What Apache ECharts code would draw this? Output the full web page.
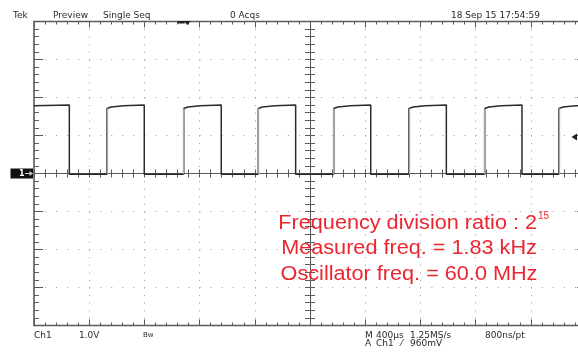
<!DOCTYPE html>
<html>
<head>
<meta charset="utf-8">
<script src="https://cdn.jsdelivr.net/npm/echarts@6.0.0/dist/echarts.min.js"></script>
<style>
  html, body { margin: 0; padding: 0; background: #fff; }
  #scope { width: 578px; height: 353px; }
</style>
</head>
<body>
<div id="scope"></div>
<script>
// ---- Acquisition: Ch1 square wave, 400 µs/div, 1.0 V/div ----
// Edge instants in µs relative to the screen centre; the first edge is a falling one.
const edgeTimesUs = [-1744, -1471, -1201, -915, -643, -375, -104, 172, 440, 717, 988, 1266, 1536, 1804];
const sweepUs = [-2000, 2000];
const firstLevelHigh = true;
// High plateau: slight rounding after each rising edge, then flat
const plateauOffsetsUs = [0, 30, 120];
const plateauVolts = [1.71, 1.75, 1.78];
const plateauEndV = 1.80;
const lowV = -0.02;
// Vertical range and trigger level (V)
const voltRange = [-4, 4];
const triggerLevelV = 0.96;
const acquiredTriggerUs = -915;

// Screen annotations
const headerItems = ['Tek', 'Preview', 'Single Seq', '0 Acqs', '18 Sep 15 17:54:59'];
const footerRow1 = ['Ch1', '1.0V', 'Bw', 'M', '400µs', '1.25MS/s', '800ns/pt'];
const footerRow2 = ['A', 'Ch1', '⁄', '960mV'];
const noteLines = ['Frequency division ratio : 2', 'Measured freq. = 1.83 kHz', 'Oscillator freq. = 60.0 MHz'];
const noteExponent = '15';

// Build the trace polyline from the edge list
function buildTrace() {
  const pts = [];
  const bounds = [sweepUs[0], ...edgeTimesUs, sweepUs[1]];
  let high = firstLevelHigh;
  for (let i = 0; i < bounds.length - 1; i++) {
    const a = bounds[i], b = bounds[i + 1];
    if (high) {
      if (i === 0) {
        pts.push([a, plateauVolts[plateauVolts.length - 1]]);
      } else {
        plateauOffsetsUs.forEach((o, k) => { if (a + o < b) pts.push([a + o, plateauVolts[k]]); });
      }
      pts.push([b, plateauEndV]);
    } else {
      pts.push([a, lowV]);
      pts.push([b, lowV]);
    }
    high = !high;
  }
  return pts;
}

// Rising edges are drawn fainter (fast transitions on the scope display)
function risingEdges() {
  const segs = [];
  let high = firstLevelHigh;
  edgeTimesUs.forEach(t => {
    high = !high;
    if (high) segs.push({ coords: [[t, lowV], [t, plateauVolts[0]]] });
  });
  return segs;
}

const frameColor = '#5a5a5a';
const dotColor = '#9a9a9a';

function xAxisDef(position, onZero, inside, majorLen, minorLen, withGrid) {
  return {
    type: 'value', min: sweepUs[0], max: sweepUs[1], interval: 400, position: position,
    axisLine: { show: true, onZero: onZero, onZeroAxisIndex: 0, lineStyle: { color: frameColor, width: onZero ? 1 : 1.4 } },
    axisTick: { show: true, inside: inside, length: majorLen, lineStyle: { color: frameColor, width: 1 } },
    minorTick: { show: true, splitNumber: 5, length: minorLen, lineStyle: { color: frameColor, width: 1 } },
    axisLabel: { show: false },
    splitLine: { show: withGrid, lineStyle: { color: dotColor, width: 1, type: [1, 6.6] } },
    minorSplitLine: { show: false }
  };
}

function yAxisDef(position, onZero, inside, majorLen, minorLen, withGrid) {
  return {
    type: 'value', min: voltRange[0], max: voltRange[1], interval: 1, position: position,
    axisLine: { show: true, onZero: onZero, onZeroAxisIndex: 0, lineStyle: { color: frameColor, width: onZero ? 1 : 1.6 } },
    axisTick: { show: true, inside: inside, length: majorLen, lineStyle: { color: frameColor, width: 1 } },
    minorTick: { show: true, splitNumber: 5, length: minorLen, lineStyle: { color: frameColor, width: 1 } },
    axisLabel: { show: false },
    splitLine: { show: withGrid, lineStyle: { color: dotColor, width: 1, type: [1, 10.04] } },
    minorSplitLine: { show: false }
  };
}

const chart = echarts.init(document.getElementById('scope'), null, { renderer: 'canvas' });

const option = {
  animation: false,
  backgroundColor: '#ffffff',
  grid: { left: 34, top: 21.5, width: 552, height: 304, outerBoundsMode: 'none' },
  xAxis: [
    xAxisDef('bottom', false, true, 6, 3, true),
    xAxisDef('top', false, true, 6, 3, false),
    xAxisDef('bottom', true, false, 4, 4, false),
    xAxisDef('top', true, false, 4, 4, false)
  ],
  yAxis: [
    yAxisDef('left', false, true, 9, 5, true),
    yAxisDef('right', false, true, 9, 5, false),
    yAxisDef('left', true, false, 5, 5, false),
    yAxisDef('right', true, false, 5, 5, false)
  ],
  series: [
    {
      name: 'Ch1', type: 'line', xAxisIndex: 0, yAxisIndex: 0,
      data: buildTrace(), showSymbol: false, symbol: 'none',
      lineStyle: { color: '#2b2b2b', width: 1.5 }, z: 5
    },
    {
      name: 'Ch1 rising', type: 'lines', coordinateSystem: 'cartesian2d', xAxisIndex: 0, yAxisIndex: 0,
      data: risingEdges(), lineStyle: { color: '#a8a8a8', width: 1.3, opacity: 1 }, z: 6
    }
  ]
};
chart.setOption(option);

const hdrFont = '9px "DejaVu Sans"';
const txt = (text, x, y, font, fill, align) => ({
  type: 'text', silent: true, z: 20,
  style: { text: text, x: x, y: y, font: font, fill: fill || '#2a2a2a', align: align || 'left', verticalAlign: 'middle' }
});
// Annotation text is slightly wide; stretched horizontally around its anchor
const wideTxt = (text, x, y, font, fill, align) => ({
  type: 'text', silent: true, z: 20, x: x, y: y, scaleX: 1.11, scaleY: 1,
  style: { text: text, x: 0, y: 0, font: font, fill: fill, align: align, verticalAlign: 'middle' }
});

// Marker positions follow the axis scales
const gndPx = chart.convertToPixel({ yAxisIndex: 0 }, 0);
const trigPx = chart.convertToPixel({ yAxisIndex: 0 }, triggerLevelV);
const acqPx = chart.convertToPixel({ xAxisIndex: 0 }, acquiredTriggerUs);
const red = '#ec2630';
const noteFont = '19.5px "Liberation Sans", Arial, sans-serif';

chart.setOption({
  graphic: { elements: [
    txt(headerItems[0], 13, 15.5, hdrFont),
    txt(headerItems[1], 53, 15.5, hdrFont),
    txt(headerItems[2], 103, 15.5, hdrFont),
    txt(headerItems[3], 230, 15.5, hdrFont),
    txt(headerItems[4], 451, 15.5, hdrFont),
    txt(footerRow1[0], 34, 336, hdrFont),
    txt(footerRow1[1], 79, 336, hdrFont),
    txt(footerRow1[2], 143, 335, '7px "DejaVu Sans"'),
    txt(footerRow1[3], 365, 336, hdrFont),
    txt(footerRow1[4], 376, 336, hdrFont),
    txt(footerRow1[5], 410, 336, hdrFont),
    txt(footerRow1[6], 485, 336, hdrFont),
    txt(footerRow2[0], 365, 344, hdrFont),
    txt(footerRow2[1], 376, 344, hdrFont),
    txt(footerRow2[2], 401, 344, hdrFont),
    txt(footerRow2[3], 410, 344, hdrFont),
    // annotation
    wideTxt(noteLines[0], 537, 223.5, noteFont, red, 'right'),
    txt(noteExponent, 538, 216.5, '10px "Liberation Sans", Arial, sans-serif', red, 'left'),
    wideTxt(noteLines[1], 409, 248.5, noteFont, red, 'center'),
    wideTxt(noteLines[2], 409, 274.5, noteFont, red, 'center'),
    // channel 1 ground marker
    { type: 'rect', silent: true, z: 20, shape: { x: 10.5, y: gndPx - 5, width: 22.5, height: 10 }, style: { fill: '#111' } },
    txt('1', 19, gndPx, 'bold 8px "DejaVu Sans"', '#ffffff'),
    { type: 'line', silent: true, z: 21, shape: { x1: 25, y1: gndPx, x2: 31, y2: gndPx }, style: { stroke: '#cfcfcf', lineWidth: 1 } },
    { type: 'polygon', silent: true, z: 21, shape: { points: [[33, gndPx], [29.5, gndPx - 2.5], [29.5, gndPx + 2.5]] }, style: { fill: '#cfcfcf' } },
    // trigger level marker
    { type: 'polygon', silent: true, z: 21, shape: { points: [[571.5, trigPx], [577, trigPx - 3.5], [577, trigPx + 3.5]] }, style: { fill: '#222' } },
    // acquired trigger point marker on the top edge
    { type: 'rect', silent: true, z: 21, shape: { x: acqPx - 6, y: 21, width: 7, height: 2.5 }, style: { fill: '#222' } },
    { type: 'polygon', silent: true, z: 21, shape: { points: [[acqPx, 21], [acqPx + 7, 21], [acqPx + 3.5, 25]] }, style: { fill: '#222' } }
  ] }
});
</script>
</body>
</html>
